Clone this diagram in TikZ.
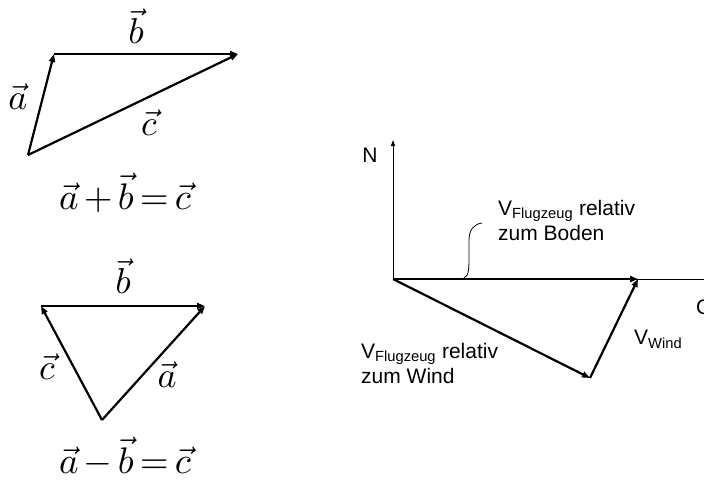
\documentclass[tikz,border=0pt]{standalone}
\usepackage{amsmath}
\usepackage{fontspec}
\setmainfont{Liberation Sans}
\usetikzlibrary{arrows.meta}

\tikzset{
    vec/.style={line width=2.2pt,-{Triangle[length=8pt,width=6pt]}},
    axis/.style={line width=1pt},
    biglabel/.style={inner sep=0pt,font=\normalsize,scale=3.6,transform shape},
    sumlabel/.style={inner sep=0pt,font=\normalsize,scale=3.7,transform shape},
    txt/.style={inner sep=0pt,align=left,font=\fontsize{21}{25}\selectfont}
}

\begin{document}
\begin{tikzpicture}[x=1pt,y=-1pt]
    \useasboundingbox (0,0) rectangle (704,488);
    \clip (0,0) rectangle (704,488);
    % a + b = c
    \coordinate (P1) at (28,155);
    \coordinate (P2) at (54,54);
    \coordinate (P3) at (238,54);
    \draw[vec] (P1)--(P2);
    \draw[vec] (P2)--(P3);
    \draw[vec] (P1)--(P3);
    \node[biglabel] (b1) at (136,26) {$\vec{b}$};
    \node[biglabel] (a1) at (18,97) {$\vec{a}$};
    \node[biglabel] (c1) at (149,123) {$\vec{c}$};
    \node[sumlabel] (sum) at (125,193) {$\medmuskip=2.5mu\thickmuskip=3mu \vec{a}+\vec{b}=\vec{c}$};
    % a - b = c
    \coordinate (Q1) at (41,306);
    \coordinate (Q2) at (205,306);
    \coordinate (Q3) at (102,420);
    \draw[vec] (Q1)--(Q2);
    \draw[vec] (Q3)--(Q2);
    \draw[vec] (Q3)--(Q1);
    \node[biglabel] (b2) at (123,276) {$\vec{b}$};
    \node[biglabel] (c2) at (47,367) {$\vec{c}$};
    \node[biglabel] (a2) at (167,375) {$\vec{a}$};
    \node[sumlabel] (diff) at (125,457) {$\medmuskip=2.5mu\thickmuskip=3mu \vec{a}-\vec{b}=\vec{c}$};
    % Wind
    \coordinate (O) at (393,279);
    \coordinate (Nend) at (393,140);
    \coordinate (Eend) at (710,279);
    \coordinate (G) at (638,279);
    \coordinate (W) at (590,378);
    \draw[axis,-{Triangle[length=6pt,width=4pt]}] (O)--(Nend);
    \draw[axis] (O)--(Eend);
    \node[txt] (N) at (370,155) {N};
    \node[txt,anchor=west] (Ost) at (696,307) {O};
    \draw[vec] (O)--(G);
    \draw[vec] (O)--(W);
    \draw[vec] (W)--(G);
    \node[txt,anchor=north west] (boden) at (498,200) {V\textsubscript{Flugzeug} relativ\\zum Boden};
    \node[txt,anchor=north west] (luft) at (361,343) {V\textsubscript{Flugzeug} relativ\\zum Wind};
    \node[txt,anchor=north west] (wind) at (634,330) {V\textsubscript{Wind}};
    \coordinate (hook) at (464,278);
    \draw[line width=0.8pt] (hook) .. controls (469,276) and (469,268) .. (469,256)
        -- (469,240) .. controls (469,230) and (474,224) .. (482,223);
\end{tikzpicture}
\end{document}
